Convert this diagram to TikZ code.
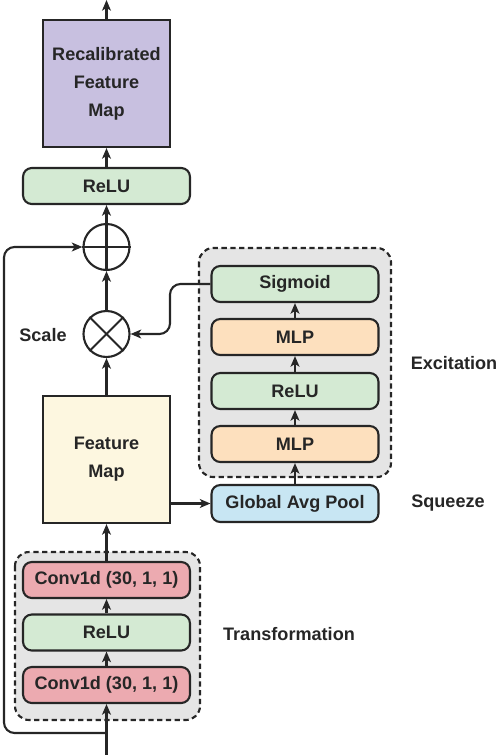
\documentclass[tikz,border=0pt]{standalone}
\usepackage{fontspec}
\setmainfont{Liberation Sans}
\usetikzlibrary{positioning,arrows.meta,shapes.geometric}

\definecolor{recalcol}{RGB}{200,192,224}
\definecolor{relucol}{RGB}{212,234,211}
\definecolor{mlpcol}{RGB}{253,224,190}
\definecolor{convcol}{RGB}{236,170,176}
\definecolor{gapcol}{RGB}{200,230,243}
\definecolor{featcol}{RGB}{253,247,224}
\definecolor{groupcol}{RGB}{229,229,229}

\tikzset{
    every node/.style={font=\fontsize{10.3}{16}\selectfont\bfseries, text=black!85},
    layer/.style={draw=black!85, line width=1.2pt, rounded corners=5pt, minimum width=3.34cm, minimum height=0.72cm, inner sep=0pt},
    mapbox/.style={draw=black!85, line width=1.2pt, minimum width=2.54cm, minimum height=2.54cm, align=center, inner sep=0pt},
    opnode/.style={draw=black!85, line width=1.2pt, circle, minimum size=0.92cm, inner sep=0pt},
    group/.style={draw=black!85, line width=1.2pt, dash pattern=on 3pt off 2pt, rounded corners=8pt, fill=groupcol},
    arr/.style={draw=black!85, line width=1.2pt, -{Stealth[length=6pt,width=5pt,inset=1.5pt]}},
    link/.style={draw=black!85, line width=1.2pt}
}

\begin{document}
\begin{tikzpicture}[x=0.02cm, y=-0.02cm]
        \useasboundingbox (0,0) rectangle (498,755);

        \draw[group] (199,248) rectangle (391,477);
        \draw[group] (15,552) rectangle (200,720);

        \node[mapbox, fill=recalcol] (recal) at (106.5,83.5) {Recalibrated\\Feature\\Map};
        \node[layer, fill=relucol] (relutop) at (106.5,186) {ReLU};
        \node[opnode] (plus) at (106.5,247) {};
        \node[opnode] (times) at (106.5,334) {};
        \node[mapbox, fill=featcol] (feat) at (106.5,459.5) {Feature\\Map};

        \node[layer, fill=relucol] (sig) at (295,284) {Sigmoid};
        \node[layer, fill=mlpcol] (mlpb) at (295,337) {MLP};
        \node[layer, fill=relucol] (reluex) at (295,391) {ReLU};
        \node[layer, fill=mlpcol] (mlpa) at (295,444) {MLP};
        \node[layer, fill=gapcol, minimum height=0.74cm] (gap) at (295,503.5) {Global Avg Pool};

        \node[layer, fill=convcol] (convb) at (106.5,580) {Conv1d (30, 1, 1)};
        \node[layer, fill=relucol] (relutr) at (106.5,632.5) {ReLU};
        \node[layer, fill=convcol] (conva) at (106.5,685) {Conv1d (30, 1, 1)};

        \node (scale) at (43,335) {Scale};
        \node (excite) at (454,363) {Excitation};
        \node (squeeze) at (448,503.5) {Squeeze};
        \node (transf) at (289,634) {Transformation};

        \coordinate (in) at (106.5,755);
        \coordinate (split) at (106.5,733);
        \coordinate (out) at (106.5,0);
        \coordinate (bend) at (170,334);

        \draw[arr] (in) -- (conva);
        \draw[arr] (conva) -- (relutr);
        \draw[arr] (relutr) -- (convb);
        \draw[arr] (convb) -- (feat);
        \draw[arr] (feat) -- (times);
        \draw[arr] (times) -- (plus);
        \draw[arr] (plus) -- (relutop);
        \draw[arr] (relutop) -- (recal);
        \draw[arr] (recal) -- (out);

        \draw[arr] (feat.east |- gap.west) -- (gap.west);
        \draw[arr] (gap) -- (mlpa);
        \draw[arr] (mlpa) -- (reluex);
        \draw[arr] (reluex) -- (mlpb);
        \draw[arr] (mlpb) -- (sig);
        \draw[arr, rounded corners=6pt] (sig.west) -| (bend) -- (times.east);

        \draw[arr, rounded corners=6pt] (split) -| (4,247) -- (plus.west);

        \draw[link] (plus.north) -- (plus.south);
        \draw[link] (plus.west) -- (plus.east);
        \draw[link] (times.north west) -- (times.south east);
        \draw[link] (times.north east) -- (times.south west);
\end{tikzpicture}
\end{document}
